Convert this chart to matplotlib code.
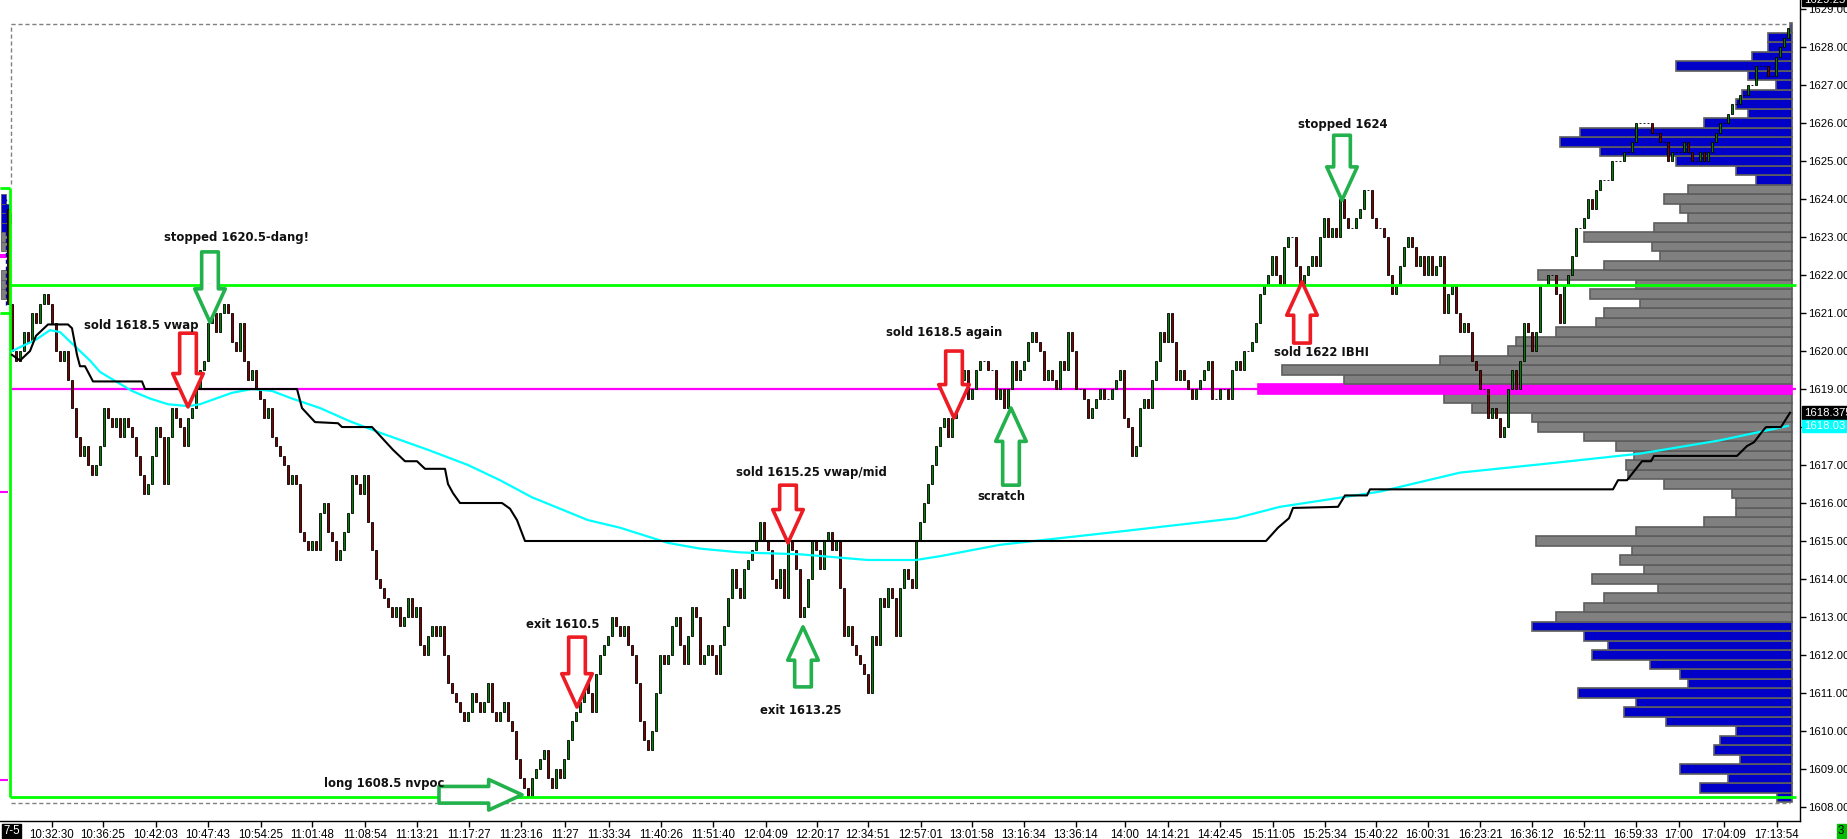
import numpy as np
import matplotlib.pyplot as plt

# candle closes (range bars), first bar sits at index -1, open = previous close
first_open = 1623.75
closes = [
    1621.25,
    1620.0, 1619.75, 1620.0, 1620.5, 1620.25, 1621.0, 1620.75, 1621.25, 1621.5, 1621.25,
    1620.75, 1620.0, 1619.75, 1620.0, 1619.25, 1618.5, 1617.75, 1617.25, 1617.5, 1617.0,
    1616.75, 1617.0, 1617.5, 1618.5, 1618.25, 1618.0, 1618.25, 1617.75, 1618.25, 1618.0,
    1617.75, 1617.25, 1616.75, 1616.25, 1616.5, 1617.25, 1618.0, 1617.75, 1616.5, 1617.75,
    1618.5, 1618.25, 1618.0, 1617.5, 1618.25, 1618.5, 1619.0, 1619.5, 1619.75, 1620.75,
    1621.0, 1620.5, 1621.0, 1621.25, 1621.0, 1620.25, 1620.0, 1620.75, 1619.75, 1619.25,
    1619.5, 1619.0, 1618.75, 1618.25, 1618.5, 1617.75, 1617.5, 1617.25, 1617.0, 1616.5,
    1616.75, 1616.5, 1615.25, 1615.0, 1614.75, 1615.0, 1614.75, 1615.75, 1616.0, 1615.25,
    1615.0, 1614.5, 1614.75, 1615.25, 1615.75, 1616.75, 1616.5, 1616.25, 1616.75, 1615.5,
    1614.75, 1614.0, 1613.75, 1613.5, 1613.25, 1613.0, 1613.25, 1612.75, 1613.0, 1613.5,
    1613.0, 1613.25, 1612.25, 1612.0, 1612.5, 1612.75, 1612.5, 1612.75, 1612.0, 1611.25,
    1611.0, 1610.75, 1610.5, 1610.25, 1610.5, 1611.0, 1610.75, 1610.5, 1610.75, 1611.25,
    1610.5, 1610.25, 1610.5, 1610.75, 1610.25, 1610.0, 1609.25, 1608.75, 1608.5, 1608.25,
    1608.75, 1609.0, 1609.25, 1609.5, 1608.75, 1608.5, 1609.0, 1608.75, 1609.25, 1609.75,
    1610.25, 1610.5, 1610.75, 1611.5, 1611.0, 1610.5, 1611.5, 1612.0, 1612.25, 1612.5,
    1613.0, 1612.75, 1612.5, 1612.75, 1612.25, 1612.0, 1611.25, 1610.25, 1609.75, 1609.5,
    1610.0, 1611.0, 1612.0, 1611.75, 1612.0, 1612.75, 1613.0, 1612.25, 1611.75, 1612.5,
    1613.25, 1613.0, 1611.75, 1612.0, 1612.25, 1612.0, 1611.5, 1612.25, 1612.75, 1613.5,
    1614.25, 1613.75, 1613.5, 1614.25, 1614.5, 1614.75, 1615.0, 1615.5, 1615.0, 1614.75,
    1614.0, 1613.75, 1614.25, 1613.5, 1615.0, 1614.75, 1614.25, 1613.0, 1613.25, 1614.0,
    1615.0, 1614.75, 1614.25, 1615.0, 1615.25, 1614.75, 1615.0, 1613.75, 1612.5, 1612.75,
    1612.25, 1612.0, 1611.75, 1611.5, 1611.0, 1612.5, 1612.25, 1613.5, 1613.25, 1613.75,
    1613.5, 1612.5, 1613.75, 1614.25, 1614.0, 1613.75, 1615.0, 1615.5, 1616.0, 1616.5,
    1617.0, 1617.5, 1618.0, 1618.25, 1617.75, 1618.25, 1619.0, 1619.25, 1619.5, 1618.75,
    1619.0, 1619.5, 1619.75, 1619.75, 1619.5, 1619.5, 1618.75, 1619.0, 1618.5, 1619.0,
    1619.75, 1619.25, 1619.5, 1619.75, 1620.25, 1620.5, 1620.25, 1620.0, 1619.25, 1619.5,
    1619.25, 1619.0, 1619.75, 1619.5, 1620.5, 1620.0, 1619.0, 1619.0, 1618.75, 1618.25,
    1618.5, 1618.75, 1619.0, 1618.75, 1618.75, 1619.0, 1619.25, 1619.5, 1618.25, 1618.0,
    1617.25, 1617.5, 1618.5, 1618.75, 1618.5, 1619.25, 1619.75, 1620.5, 1620.25, 1621.0,
    1620.25, 1619.25, 1619.5, 1619.25, 1619.0, 1618.75, 1619.0, 1619.25, 1619.5, 1619.75,
    1618.75, 1618.75, 1619.0, 1619.0, 1618.75, 1619.5, 1619.75, 1619.5, 1620.0, 1620.0,
    1620.25, 1620.75, 1621.5, 1621.75, 1622.0, 1622.5, 1622.0, 1621.75, 1622.75, 1623.0,
    1623.0, 1622.25, 1621.75, 1622.0, 1622.25, 1622.5, 1622.25, 1623.0, 1623.5, 1623.0,
    1623.25, 1623.0, 1624.0, 1623.5, 1623.25, 1623.25, 1623.5, 1623.75, 1624.25, 1624.25,
    1623.5, 1623.25, 1623.25, 1623.0, 1622.0, 1621.5, 1621.75, 1622.25, 1622.75, 1623.0,
    1622.75, 1622.25, 1622.5, 1622.0, 1622.5, 1622.0, 1622.25, 1622.5, 1621.0, 1621.5,
    1621.75, 1621.0, 1620.5, 1620.75, 1620.5, 1619.75, 1619.5, 1619.0, 1619.0, 1618.25,
    1618.5, 1618.25, 1617.75, 1618.0, 1619.0, 1619.5, 1619.0, 1619.75, 1620.75, 1620.5,
    1620.0, 1620.5, 1621.75, 1621.75, 1622.0, 1622.0, 1621.5, 1620.75, 1621.75, 1622.0,
    1622.5, 1623.25, 1623.25, 1623.5, 1624.0, 1623.75, 1624.25, 1624.5, 1624.5, 1624.5,
    1625.0, 1625.0, 1625.0, 1625.25, 1625.25, 1625.5, 1626.0, 1626.0, 1626.0, 1626.0,
    1625.75, 1625.75, 1625.5, 1625.5, 1625.0, 1625.25, 1625.25, 1625.25, 1625.5, 1625.25,
    1625.0, 1625.0, 1625.25, 1625.0, 1625.25, 1625.5, 1625.75, 1626.0, 1626.0, 1626.25,
    1626.5, 1626.5, 1626.75, 1626.75, 1627.0, 1627.0, 1627.5, 1627.5, 1627.5, 1627.25,
    1627.25, 1627.75, 1628.0, 1628.25, 1628.5,
]

# vwap (cyan) and developing level (black) as (bar index, price)
vwap_idx = [0, 2, 6, 9.5, 12, 16, 19.5, 22, 26, 30, 34.5, 39, 44, 47, 51, 55, 60, 65, 70,
            77, 84.5, 92, 104, 114, 122, 130, 137, 144, 152, 164, 172, 182, 197, 214, 226,
            232, 247, 277, 306, 317, 342, 362, 385, 407, 427, 444]
vwap_px = [1620.0, 1620.1, 1620.3, 1620.55, 1620.5, 1620.1, 1619.75, 1619.45, 1619.2,
           1618.95, 1618.75, 1618.6, 1618.55, 1618.6, 1618.75, 1618.9, 1619.0, 1618.95,
           1618.75, 1618.5, 1618.15, 1617.85, 1617.4, 1617.0, 1616.6, 1616.15, 1615.85,
           1615.55, 1615.35, 1614.95, 1614.8, 1614.7, 1614.65, 1614.5, 1614.5, 1614.6,
           1614.9, 1615.25, 1615.6, 1615.9, 1616.3, 1616.8, 1617.05, 1617.3, 1617.65, 1618.03]

dev_idx = [0, 2, 4.5, 6, 9, 14, 15, 16.25, 17, 18.25, 20.25, 32.5, 33.25, 71.25, 72.5,
           75.75, 81.5, 82.5, 90, 95.25, 98.25, 101.25, 103.25, 108.25, 109, 110.25, 112,
           122.5, 124.5, 126.25, 128.25, 313.5, 316.5, 319.25, 320.25, 331.5, 333.25,
           338.75, 339.5, 400.25, 401.5, 403.75, 406, 407.5, 409.75, 410.5, 431.25,
           433.75, 435.5, 437.25, 438.5, 442.25, 444.5]
dev_px = [1619.9, 1619.75, 1620.0, 1620.4, 1620.7, 1620.7, 1620.6, 1619.9, 1619.6, 1619.6,
          1619.2, 1619.2, 1619.0, 1619.0, 1618.5, 1618.13, 1618.1, 1618.0, 1618.0, 1617.4,
          1617.1, 1617.1, 1616.9, 1616.9, 1616.5, 1616.26, 1616.0, 1616.0, 1615.85,
          1615.55, 1615.0, 1615.0, 1615.35, 1615.6, 1615.87, 1615.9, 1616.2, 1616.2,
          1616.36, 1616.36, 1616.6, 1616.6, 1616.9, 1617.1, 1617.1, 1617.24, 1617.24,
          1617.5, 1617.6, 1617.84, 1618.0, 1618.0, 1618.375]

# volume profile, one row per 0.25 from 1608.25 upward (bar-width units)
profile_low = 1608.25
profile_vol = [
    3.75, 23, 16, 28, 13, 19.5, 18, 14, 31.5, 42, 39, 53.5, 26, 28, 35.5, 50, 46, 52, 65,
    59, 52, 47, 33.5, 50, 37, 43, 40, 64, 39, 22, 14, 14, 15, 32, 41, 41.5, 39.5, 44, 52,
    63.5, 65, 80, 87, 133.5, 112, 127.5, 88, 71, 69, 59, 49, 47, 38, 50.5, 39, 63.5, 47,
    33, 35, 52, 34.5, 26, 28, 32, 26,
    9, 14, 29, 48, 58, 53, 22, 11, 14, 12.5, 4, 11, 29, 10, 6, 6, 0.5,
]
va_low, va_high = 1613.0, 1624.25
poc = 1619.0
ib_high = 1621.75
ib_low = 1608.25
day_hi_dash, day_lo_dash = 1628.6, 1608.1

# previous session remnant at the far left
prev_levels = [1623.25, 1623.5, 1623.75, 1624.0, 1622.75, 1623.0, 1621.5, 1621.75, 1622.0]
prev_vol = [1.8, 2.4, 2.0, 1.2, 2.2, 1.6, 1.4, 1.8, 1.5]
prev_box_hi, prev_box_lo = 1624.3, 1621.0

time_idx = [10, 22.75, 36, 49, 62.25, 75, 88.25, 101.25, 114.25, 127.25, 138.25, 149.25,
            162.25, 175.25, 188.5, 201.25, 214, 227.25, 240, 253, 266, 278.25, 289, 302,
            315.25, 328.25, 341, 354, 367, 380, 393, 406, 416.75, 428, 441.25]
time_lbl = ["10:32:30", "10:36:25", "10:42:03", "10:47:43", "10:54:25", "11:01:48",
            "11:08:54", "11:13:21", "11:17:27", "11:23:16", "11:27", "11:33:34", "11:40:26",
            "11:51:40", "12:04:09", "12:20:17", "12:34:51", "12:57:01", "13:01:58",
            "13:16:34", "13:36:14", "14:00", "14:14:21", "14:42:45", "15:11:05", "15:25:34",
            "15:40:22", "16:00:31", "16:23:21", "16:36:12", "16:52:11", "16:59:33", "17:00",
            "17:04:09", "17:13:54"]

# trade notes: text position and arrow tip/tail
note_txt = ["stopped 1620.5-dang!", "sold 1618.5 vwap", "long 1608.5 nvpoc", "exit 1610.5",
            "sold 1615.25 vwap/mid", "exit 1613.25", "sold 1618.5 again", "scratch",
            "stopped 1624", "sold 1622 IBHI"]
note_x = [38, 18, 78, 128.5, 181, 187, 218.5, 241.25, 321.5, 315.5]
note_y = [1623.0, 1620.68, 1608.63, 1612.79, 1616.79, 1610.55, 1620.5, 1616.16, 1625.95, 1619.97]
arrow_tip = [(49.5, 1620.76), (44, 1618.53), (127.5, 1608.32), (141.25, 1610.63),
             (194, 1614.95), (197.75, 1612.74), (235.5, 1618.24), (249.75, 1618.5),
             (332.5, 1623.97), (322.5, 1621.82)]
arrow_tail = [(49.5, 1622.61), (44, 1620.47), (106.75, 1608.32), (141.25, 1612.47),
              (194, 1616.47), (197.75, 1611.16), (235.5, 1620.0), (249.75, 1616.47),
              (332.5, 1625.68), (322.5, 1620.21)]
arrow_col = ["g", "r", "g", "r", "r", "g", "r", "g", "g", "r"]

GREEN_UP = "#008000"
RED_DN = "#800000"
ARROW = {"g": "#22B14C", "r": "#ED1C24"}
LBL_FONT = "Liberation Sans"

fig = plt.figure(figsize=(18.47, 8.39), dpi=100)
ax = fig.add_axes([0, 18 / 839, 1800 / 1847, 821 / 839])
ax.set_xlim(-3, 447)
ax.set_ylim(1607.63, 1629.24)

# volume profile
levels = profile_low + 0.25 * np.arange(len(profile_vol))
vol = np.array(profile_vol)
right_edge = 445
for lv, v in zip(levels, vol):
    if abs(lv - poc) < 1e-6:
        fc, ec = "#FF00FF", "#FF00FF"
    elif va_low <= lv <= va_high:
        fc, ec = "#808080", "#5e5e5e"
    else:
        fc, ec = "#0000C8", "#5e5e5e"
    ax.barh(lv, v, left=right_edge - v, height=0.25, color=fc, edgecolor=ec,
            linewidth=1.2, zorder=1)

# leftover of the previous session
prev_cols = ["#808080" if lv < 1623.25 else "#0000C8" for lv in prev_levels]
ax.barh(prev_levels, prev_vol, left=-2.75, height=0.25, color=prev_cols,
        edgecolor="#5e5e5e", linewidth=0.6, zorder=1)
ax.hlines([1622.5], -3, -1, color="#FF00FF", lw=3, zorder=2)
ax.hlines([1616.3, 1608.7], -3, -1, color="#FF00FF", lw=1.5, zorder=2)
ax.hlines([prev_box_hi, prev_box_lo], -3, -0.5, color="#00FF00", lw=2, zorder=4)
ax.vlines(-0.5, ib_low, prev_box_hi, color="#00FF00", lw=2, zorder=4)
ax.vlines(-1.5, 1621.2, 1624.0, color="#0000C8", lw=1, linestyles=(0, (3, 2)), zorder=2)

# range box dashes
ax.hlines([day_hi_dash, day_lo_dash], -0.25, 444.5, color="#808080", lw=1,
          linestyles=(0, (3, 2)), zorder=2)
ax.vlines(-0.25, 1624.4, day_hi_dash, color="#808080", lw=1, linestyles=(0, (3, 2)), zorder=2)

# poc line
ax.hlines(poc, -0.25, 446, color="#FF00FF", lw=1.6, zorder=2)

# candles
idx = np.arange(-1, len(closes) - 1)
c = np.array(closes)
o = np.concatenate([[first_open], c[:-1]])
up = c >= o
body_lo = np.minimum(o, c)
body_h = np.abs(c - o)
ax.bar(idx[up], body_h[up], bottom=body_lo[up], width=0.72, color=GREEN_UP,
       edgecolor="black", linewidth=0.6, zorder=3)
ax.bar(idx[~up], body_h[~up], bottom=body_lo[~up], width=0.72, color=RED_DN,
       edgecolor="black", linewidth=0.6, zorder=3)

# indicator lines
ax.plot(vwap_idx, vwap_px, color="#00FFFF", lw=1.6, zorder=5)
ax.plot(dev_idx, dev_px, color="black", lw=1.5, zorder=5)

# IB lines
ax.hlines([ib_high, ib_low], -0.5, 446, color="#00FF00", lw=2, zorder=4)

# notes and arrows
for s, x, y in zip(note_txt, note_x, note_y):
    ax.text(x, y, s, fontsize=8.4, fontweight="bold", color="#111111", ha="left",
            va="center", family="DejaVu Sans", zorder=7)
for tip, tail, k in zip(arrow_tip, arrow_tail, arrow_col):
    ax.annotate("", xy=tip, xytext=tail,
                arrowprops=dict(arrowstyle="simple,head_length=1.2,head_width=1.1,tail_width=0.6",
                                mutation_scale=20, fc="white", ec=ARROW[k], lw=2.6,
                                shrinkA=0, shrinkB=0),
                zorder=6)

# axes styling
for side in ("top", "left"):
    ax.spines[side].set_visible(False)
for side in ("right", "bottom"):
    ax.spines[side].set_color("black")
    ax.spines[side].set_linewidth(1)
ax.yaxis.tick_right()
ax.set_yticks(np.arange(1608, 1630))
ax.set_yticklabels([f"{v:.2f}" for v in np.arange(1608, 1630)])
ax.set_xticks(time_idx)
ax.set_xticklabels(time_lbl)
ax.tick_params(axis="y", length=4, width=1, pad=1.5, labelsize=8.2, colors="black")
ax.tick_params(axis="x", length=4, width=1, pad=1.5, labelsize=8.3, colors="black")
for lab in ax.get_xticklabels() + ax.get_yticklabels():
    lab.set_family(LBL_FONT)

# price flags on the right axis
ytr = ax.get_yaxis_transform()
for price, s, bg in [(1629.25, "1629.25", "black"), (1618.375, "1618.375", "black"),
                     (1618.03, "1618.03", "#00FFFF")]:
    ax.text(1.002, price, s, transform=ytr, color="white", fontsize=8.2, family=LBL_FONT,
            ha="left", va="center", clip_on=False, zorder=8,
            bbox=dict(boxstyle="square,pad=0.12", fc=bg, ec=bg))

fig.text(3 / 1847, 8 / 839, "7-5", color="white", fontsize=8.3, family=LBL_FONT,
         ha="left", va="center", bbox=dict(boxstyle="square,pad=0.12", fc="black", ec="black"))
fig.text(1838 / 1847, 8 / 839, "3", color="black", fontsize=8.3, family=LBL_FONT,
         ha="left", va="center", bbox=dict(boxstyle="square,pad=0.12", fc="#00C000", ec="#00C000"))

fig.savefig("out.png", dpi=100)
